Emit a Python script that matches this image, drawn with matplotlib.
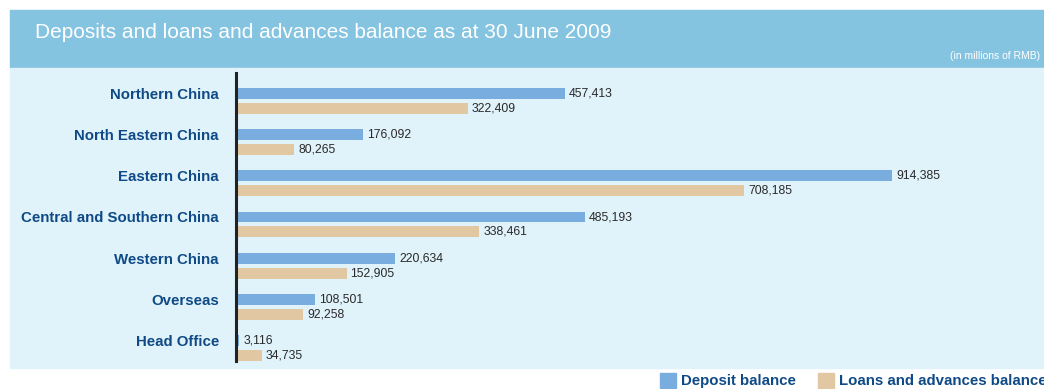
import matplotlib.pyplot as plt
from matplotlib.patches import Rectangle
import numpy as np

plt.rcParams['font.family'] = ['Liberation Sans', 'DejaVu Sans']

regions = ['Northern China', 'North Eastern China', 'Eastern China',
           'Central and Southern China', 'Western China', 'Overseas', 'Head Office']
deposit = [457413, 176092, 914385, 485193, 220634, 108501, 3116]
loans = [322409, 80265, 708185, 338461, 152905, 92258, 34735]

W, H = 1044, 389
fig = plt.figure(figsize=(W / 100, H / 100), dpi=100)

# background bands
header_c = '#85c4e1'
panel_c = '#e0f2fa'
fig.patches.append(Rectangle((10 / W, 1 - 68 / H), 1 - 10 / W, 58 / H,
                             transform=fig.transFigure, color=header_c, zorder=-5))
fig.patches.append(Rectangle((10 / W, 1 - 368 / H), 1 - 10 / W, 300 / H,
                             transform=fig.transFigure, color=panel_c, zorder=-5))

fig.text(35 / W, 1 - 33 / H, 'Deposits and loans and advances balance as at 30 June 2009',
         color='white', fontsize=15, va='center', ha='left')
fig.text(1040 / W, 1 - 56 / H, '(in millions of RMB)', color='white', fontsize=7.5,
         va='center', ha='right')

# axes: left at x=237, top y=73, bottom y=361
ax_l, ax_r = 237, 1040
ax_t, ax_b = 73, 361
ax = fig.add_axes([ax_l / W, 1 - ax_b / H, (ax_r - ax_l) / W, (ax_b - ax_t) / H])
ax.set_facecolor('none')
ax.set_zorder(2)

for s in ['top', 'right', 'bottom']:
    ax.spines[s].set_visible(False)
ax.spines['left'].set_linewidth(2.2)
ax.spines['left'].set_color('#222222')
ax.spines['left'].set_position(('outward', 1))

scale = (892 - 237) / 914385  # px per unit
ax.set_xlim(0, (ax_r - ax_l) / scale)
ppu = 41.17
ax.set_ylim(6 + 20.5 / ppu, -20.5 / ppu)

y = np.arange(len(regions))
bh = 11 / ppu
off = 15 / ppu
dep_c = '#7aaddf'
loan_c = '#e2c8a2'
ax.barh(y, deposit, height=bh, color=dep_c, zorder=2)
ax.barh(y + off, loans, height=bh, color=loan_c, zorder=2)

pad = 4 / scale
for i in range(len(regions)):
    ax.text(deposit[i] + pad, y[i], f'{deposit[i]:,}', va='center', ha='left',
            fontsize=8.8, color='#2a2a2a')
    ax.text(loans[i] + pad, y[i] + off, f'{loans[i]:,}', va='center', ha='left',
            fontsize=8.8, color='#2a2a2a')

ax.set_yticks(y)
ax.set_yticklabels(regions, fontsize=10.8, fontweight='bold', color='#0f4a86')
ax.tick_params(axis='y', length=0, pad=12)
ax.set_xticks([])

# legend
fig.patches.append(Rectangle((660 / W, 1 - 388 / H), 16 / W, 15 / H,
                             transform=fig.transFigure, color=dep_c))
fig.text(681 / W, 1 - 381 / H, 'Deposit balance', fontsize=10.8, fontweight='bold',
         color='#0f4a86', va='center', ha='left')
fig.patches.append(Rectangle((818 / W, 1 - 388 / H), 16 / W, 15 / H,
                             transform=fig.transFigure, color=loan_c))
fig.text(839 / W, 1 - 381 / H, 'Loans and advances balance', fontsize=10.8,
         fontweight='bold', color='#0f4a86', va='center', ha='left')

fig.savefig('out.png', dpi=100)
